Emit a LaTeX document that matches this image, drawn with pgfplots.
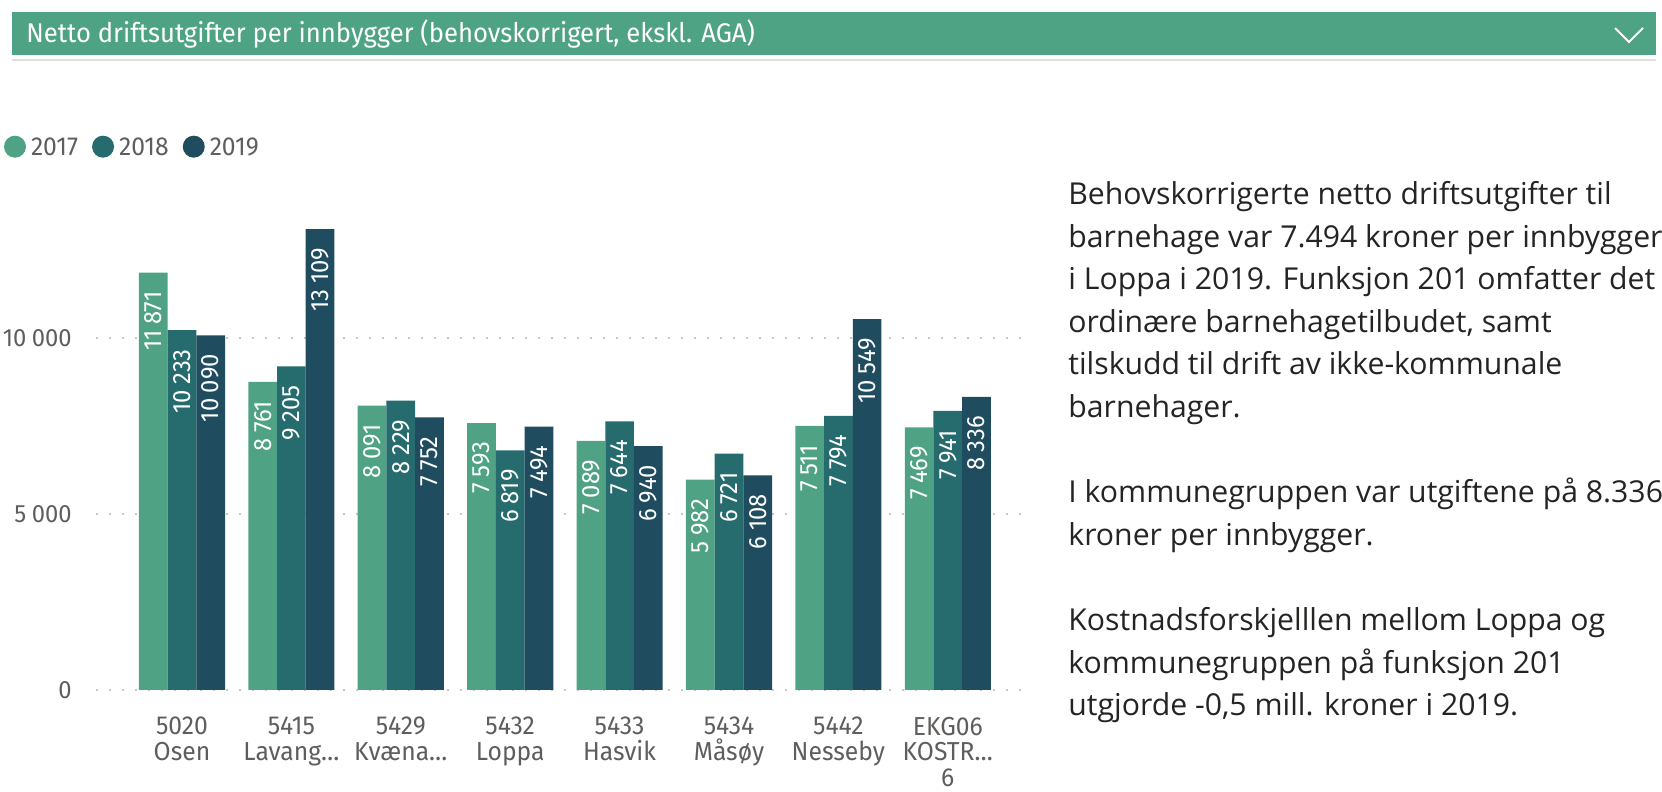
\documentclass[border=0pt]{standalone}
\usepackage{fontspec}
\usepackage{pgfplots}
\pgfplotsset{compat=1.18}
\setmainfont{Open Sans}
\newfontfamily\din{Fira Sans}[FakeStretch=0.95]
\newcommand\dinf{\din\fontsize{12.5}{12.5}\selectfont}
\newcommand\dinl{\din\fontsize{13}{13}\selectfont}
\newcommand\dinc{\din\fontsize{13}{12.9}\selectfont}
\newcommand\dint{\din\fontsize{13.5}{13.5}\selectfont}
\definecolor{cA}{HTML}{4FA384}
\definecolor{cB}{HTML}{266B6D}
\definecolor{cC}{HTML}{1F4C5E}
\definecolor{cT}{HTML}{4EA385}
\definecolor{txtgray}{HTML}{605E5C}
\definecolor{txtdark}{HTML}{252423}
\pgfplotsset{legcirc/.style={legend image code/.code={\fill (5.5pt,0pt) circle (5.5pt);}}}
\begin{document}
\begin{tikzpicture}
\useasboundingbox (0,0) rectangle (831pt,396pt);
% header bar
\fill[cT] (6pt,390pt) rectangle (828pt,368.5pt);
\draw[black!12,line width=0.6pt] (6pt,366pt) -- (828pt,366pt);
\node[anchor=west,inner sep=0pt,text=white,font=\dint] at (13pt,379pt) {Netto driftsutgifter per innbygger (behovskorrigert, ekskl. AGA)};
\draw[white,line width=1pt] (807.5pt,382pt) -- (814.5pt,375pt) -- (821.5pt,382pt);
% right text
\begin{scope}[every node/.style={anchor=base west,inner sep=0pt,text=txtdark,font=\fontsize{15.1}{17}\selectfont}]
\node at (534pt,293.7pt) {Behovskorrigerte netto driftsutgifter til};
\node at (534pt,272.4pt) {barnehage var 7.494 kroner per innbygger};
\node at (534pt,251.1pt) {i Loppa i 2019. Funksjon 201 omfatter det};
\node at (534pt,229.8pt) {ordinære barnehagetilbudet, samt};
\node at (534pt,208.5pt) {tilskudd til drift av ikke-kommunale};
\node at (534pt,187.2pt) {barnehager.};
\node at (534pt,144.6pt) {I kommunegruppen var utgiftene på 8.336};
\node at (534pt,123.3pt) {kroner per innbygger.};
\node at (534pt,80.7pt) {Kostnadsforskjelllen mellom Loppa og};
\node at (534pt,59.4pt) {kommunegruppen på funksjon 201};
\node at (534pt,38.1pt) {utgjorde -0,5 mill. kroner i 2019.};
\end{scope}
\begin{axis}[
  at={(48pt,51pt)}, anchor=south west,
  scale only axis, width=466pt, height=237.3pt,
  xmin=-0.786, xmax=7.733, ymin=0, ymax=13500,
  clip=false,
  scaled y ticks=false,
  ybar=0pt, bar width=14.35pt,
  axis line style={draw=none},
  major tick length=0pt,
  ymajorgrids,
  grid style={dash pattern=on 1pt off 5.5pt, line width=1pt, color=black!22},
  xtick={0,1,2,3,4,5,6,7},
  xticklabels={{5020\\Osen},{5415\\Lavang…},{5429\\Kvæna…},{5432\\Loppa},{5433\\Hasvik},{5434\\Måsøy},{5442\\Nesseby},{EKG06\\KOSTR…\\6}},
  xticklabel style={align=center, font=\dinc, text=txtgray, inner sep=0pt, yshift=-13.2pt},
  ytick={0,5000,10000},
  yticklabels={0,{5\hspace{0.22em}000},{10\hspace{0.22em}000}},
  yticklabel style={font=\dinf, text=txtgray, inner sep=0pt, xshift=-12pt},
  nodes near coords={\pgfmathprintnumber[assume math mode=true,1000 sep={\hspace{0.22em}}]{\pgfplotspointmeta}},
  nodes near coords style={rotate=90, anchor=east, text=white, font=\dinf, inner sep=0pt, outer xsep=9.5pt},
  legend columns=-1,
  legend style={at={(-0.0987,1.1448)}, anchor=west, draw=none, fill=none, inner sep=0pt, outer sep=0pt,
    nodes={inner sep=0pt, text depth=0pt, font=\dinl, text=txtgray},
    /tikz/every odd column/.append style={column sep=2.5pt},
    /tikz/every even column/.append style={column sep=7pt}},
]
\addplot[draw=none, fill=cA, legcirc] coordinates {(0,11871) (1,8761) (2,8091) (3,7593) (4,7089) (5,5982) (6,7511) (7,7469)};
\addlegendentry{2017}
\addplot[draw=none, fill=cB, legcirc] coordinates {(0,10233) (1,9205) (2,8229) (3,6819) (4,7644) (5,6721) (6,7794) (7,7941)};
\addlegendentry{2018}
\addplot[draw=none, fill=cC, legcirc] coordinates {(0,10090) (1,13109) (2,7752) (3,7494) (4,6940) (5,6108) (6,10549) (7,8336)};
\addlegendentry{2019}
\end{axis}
\end{tikzpicture}
\end{document}
